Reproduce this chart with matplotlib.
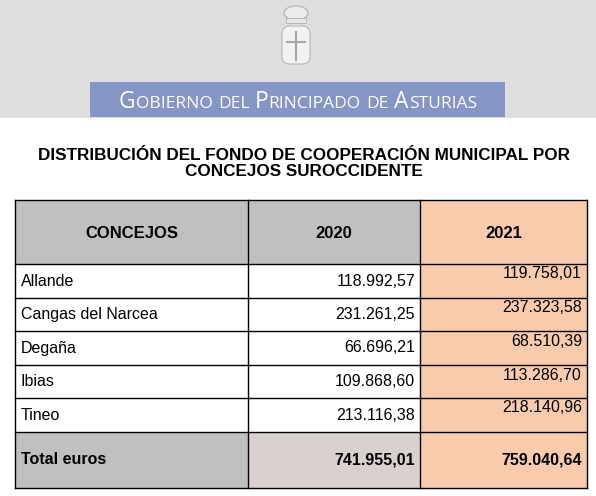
import matplotlib.pyplot as plt
from matplotlib.patches import Rectangle, FancyBboxPatch, Ellipse

concejos = ["Allande", "Cangas del Narcea", "Degaña", "Ibias", "Tineo"]
v2020 = ["118.992,57", "231.261,25", "66.696,21", "109.868,60", "213.116,38"]
v2021 = ["119.758,01", "237.323,58", "68.510,39", "113.286,70", "218.140,96"]
total_label = "Total euros"
total2020 = "741.955,01"
total2021 = "759.040,64"
headers = ["CONCEJOS", "2020", "2021"]
banner = "Gobierno del Principado de Asturias"

W, H = 596, 496
plt.rcParams['font.family'] = ['Liberation Sans', 'DejaVu Sans']
fig = plt.figure(figsize=(W/100, H/100), dpi=100)
ax = fig.add_axes([0, 0, 1, 1])
ax.set_xlim(0, W); ax.set_ylim(H, 0); ax.axis("off")

# header band
ax.add_patch(Rectangle((0, 0), W, 118, color="#dedede", lw=0))
# emblem
ax.add_patch(FancyBboxPatch((282, 26), 28, 38, boxstyle="round,pad=0,rounding_size=8",
                            fc="#f2f2f2", ec="#b8b8b8", lw=0.8))
ax.add_patch(Ellipse((296, 13), 24, 14, fc="#ebebeb", ec="#b0b0b0", lw=0.8))
ax.add_patch(Rectangle((286, 18), 20, 5, fc="#e8e8e8", ec="#b0b0b0", lw=0.6))
ax.plot([296, 296], [32, 60], color="#a8a8a8", lw=1.5)
ax.plot([287, 305], [42, 42], color="#a8a8a8", lw=1.5)
# banner with small caps
ax.add_patch(Rectangle((90, 82), 415, 35, color="#8495c6", lw=0))
fig.canvas.draw()
r = fig.canvas.get_renderer()
pieces = []
for word in banner.split(" "):
    if word[0].isupper():
        pieces.append((word[0], 16.5))
        pieces.append((word[1:].upper(), 12.5))
    else:
        pieces.append((word.upper(), 12.5))
    pieces.append((" ", 12.5))
pieces = pieces[:-1]
texts = []
x = 0
for s, fs in pieces:
    t = ax.text(0, 108, s, color="white", fontsize=fs, ha="left", va="baseline",
                family="Open Sans")
    bb = t.get_window_extent(r)
    w = bb.width if s != " " else 5.5
    texts.append((t, x))
    x += w
start = 298 - x/2
for t, off in texts:
    t.set_x(start + off)

# title
ax.text(304, 155, "DISTRIBUCIÓN DEL FONDO DE COOPERACIÓN MUNICIPAL POR",
        fontsize=12.3, fontweight="bold", ha="center", va="center")
ax.text(304, 172, "CONCEJOS SUROCCIDENTE",
        fontsize=12.3, fontweight="bold", ha="center", va="center")

# table
xs = [15, 248, 420, 587]
ys = [200, 264, 298, 331, 365, 398, 432, 488]
gray = "#c0c0c0"; peach = "#f8cbad"; pinkgray = "#d9d0d0"
fs = 11.5

ax.add_patch(Rectangle((xs[0], ys[0]), xs[2]-xs[0], ys[1]-ys[0], color=gray, lw=0))
ax.add_patch(Rectangle((xs[2], ys[0]), xs[3]-xs[2], ys[1]-ys[0], color=peach, lw=0))
for i, h in enumerate(headers):
    ax.text((xs[i]+xs[i+1])/2, (ys[0]+ys[1])/2 + 2, h, fontsize=12, fontweight="bold",
            ha="center", va="center")
for k in range(len(concejos)):
    y0, y1 = ys[k+1], ys[k+2]
    ax.add_patch(Rectangle((xs[2], y0), xs[3]-xs[2], y1-y0, color=peach, lw=0))
    ym = (y0+y1)/2
    ax.text(xs[0]+6, ym, concejos[k], fontsize=fs, ha="left", va="center")
    ax.text(xs[2]-5, ym, v2020[k], fontsize=fs, ha="right", va="center")
    ax.text(xs[3]-5, y0+10, v2021[k], fontsize=fs, ha="right", va="center")
y0, y1 = ys[6], ys[7]
ax.add_patch(Rectangle((xs[0], y0), xs[1]-xs[0], y1-y0, color=gray, lw=0))
ax.add_patch(Rectangle((xs[1], y0), xs[2]-xs[1], y1-y0, color=pinkgray, lw=0))
ax.add_patch(Rectangle((xs[2], y0), xs[3]-xs[2], y1-y0, color=peach, lw=0))
ym = (y0+y1)/2
ax.text(xs[0]+6, ym, total_label, fontsize=fs, fontweight="bold", ha="left", va="center")
ax.text(xs[2]-5, ym, total2020, fontsize=fs, fontweight="bold", ha="right", va="center")
ax.text(xs[3]-5, ym, total2021, fontsize=fs, fontweight="bold", ha="right", va="center")

for y in ys:
    ax.plot([xs[0], xs[3]], [y, y], color="black", lw=1)
for x in xs:
    ax.plot([x, x], [ys[0], ys[-1]], color="black", lw=1)

fig.savefig("out.png", dpi=100)
